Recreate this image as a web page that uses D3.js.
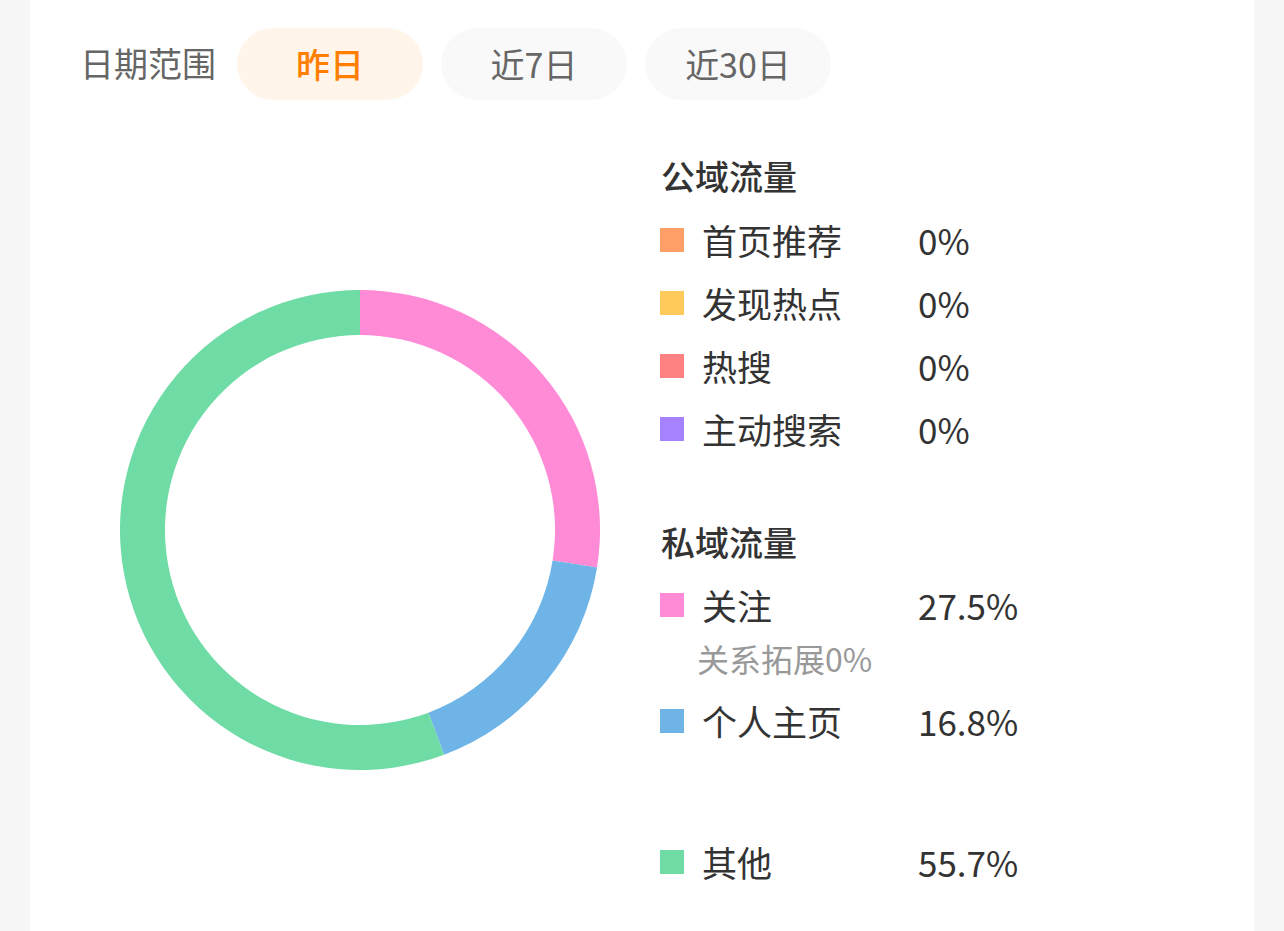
<!DOCTYPE html>
<html>
<head>
<meta charset="utf-8">
<script src="https://cdn.jsdelivr.net/npm/d3@7"></script>
<style>
  body { margin: 0; background: #f7f7f7; }
  svg { display: block; font-family: "Noto Sans CJK SC", "Noto Sans", sans-serif; }
</style>
</head>
<body>
<div id="chart"></div>
<script>
// data
var dateOptions = ["昨日", "近7日", "近30日"];
var publicNames = ["首页推荐", "发现热点", "热搜", "主动搜索"];
var publicValues = [0, 0, 0, 0];
var publicColors = ["#ff9f68", "#ffc95c", "#ff8282", "#a682ff"];
var privateNames = ["关注", "个人主页"];
var privateValues = [27.5, 16.8];
var privateColors = ["#ff8bd7", "#6eb4e7"];
var subLabel = "关系拓展0%";
var otherNames = ["其他"];
var otherValues = [55.7];
var otherColors = ["#6fdca6"];

function init() {
    var w = 1284, h = 931;

    var svg = d3.select("#chart").append("svg")
        .attr("width", w)
        .attr("height", h);

    // white card
    svg.append("rect")
        .attr("x", 30).attr("y", 0)
        .attr("width", 1224).attr("height", h)
        .attr("fill", "#fff");

    // date range selector
    svg.append("text")
        .attr("x", 80).attr("y", 62)
        .attr("dominant-baseline", "central")
        .attr("font-size", 34)
        .attr("fill", "#666")
        .text("日期范围");

    var btnX = d3.scalePoint().domain(dateOptions).range([237, 645]);
    var btns = svg.selectAll("g.btn").data(dateOptions).enter()
        .append("g").attr("class", "btn")
        .attr("transform", d => `translate(${btnX(d)}, 28)`);
    btns.append("rect")
        .attr("width", 186).attr("height", 72)
        .attr("rx", 36)
        .attr("fill", (d, i) => i === 0 ? "#fff5ea" : "#f9f9f9");
    btns.append("text")
        .attr("x", 93).attr("y", 35)
        .attr("text-anchor", "middle")
        .attr("dominant-baseline", "central")
        .attr("font-size", 34)
        .attr("font-weight", (d, i) => i === 0 ? 500 : 400)
        .attr("fill", (d, i) => i === 0 ? "#ff8000" : "#666")
        .text(d => d);

    // donut
    var allValues = publicValues.concat(privateValues, otherValues);
    var allColors = publicColors.concat(privateColors, otherColors);
    var pie = d3.pie().sort(null).value(d => d);
    var arc = d3.arc().innerRadius(195).outerRadius(240);
    svg.append("g")
        .attr("transform", "translate(360, 530)")
        .selectAll("path")
        .data(pie(allValues))
        .enter().append("path")
        .attr("d", arc)
        .attr("fill", (d, i) => allColors[i]);

    // legend
    var lg = svg.append("g");
    function header(text, y) {
        lg.append("text")
            .attr("x", 661).attr("y", y)
            .attr("dominant-baseline", "central")
            .attr("font-size", 34)
            .attr("font-weight", 500)
            .attr("fill", "#333")
            .text(text);
    }
    function row(name, value, color, y) {
        lg.append("rect")
            .attr("x", 660).attr("y", y - 13)
            .attr("width", 24).attr("height", 24)
            .attr("fill", color);
        lg.append("text")
            .attr("x", 702).attr("y", y - 2)
            .attr("dominant-baseline", "central")
            .attr("font-size", 35)
            .attr("fill", "#333")
            .text(name);
        lg.append("text")
            .attr("x", 918).attr("y", y - 2)
            .attr("dominant-baseline", "central")
            .attr("font-size", 35)
            .attr("fill", "#333")
            .text(value + "%");
    }

    header("公域流量", 175);
    var pubY = d3.scalePoint().domain(publicNames).range([241, 430]);
    publicNames.forEach((n, i) => row(n, publicValues[i], publicColors[i], pubY(n)));

    header("私域流量", 541);
    row(privateNames[0], privateValues[0], privateColors[0], 606);
    lg.append("text")
        .attr("x", 697).attr("y", 658)
        .attr("dominant-baseline", "central")
        .attr("font-size", 32)
        .attr("fill", "#999")
        .text(subLabel);
    row(privateNames[1], privateValues[1], privateColors[1], 722);

    row(otherNames[0], otherValues[0], otherColors[0], 863);
}

window.onload = init;
</script>
</body>
</html>
